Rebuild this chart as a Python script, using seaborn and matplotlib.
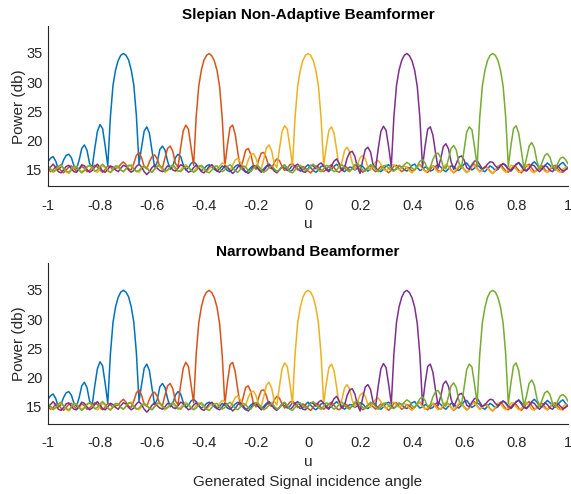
import numpy as np
import pandas as pd
import matplotlib
matplotlib.use("Agg")
import matplotlib.pyplot as plt
import seaborn as sns

# u grid (-1 .. 1, step 0.01) and beam power in dB
u = np.round(np.linspace(-1, 1, 201), 2)

blue = [
    16.3, 16.9, 17.2, 16.4, 15.0, 15.4, 16.6, 17.4, 17.6, 17.0,
    15.6, 15.1, 16.6, 18.6, 19.2, 18.3, 16.0, 15.3, 18.6, 21.5,
    22.7, 22.0, 19.0, 15.6, 24.0, 29.4, 32.1, 33.7, 34.6, 34.9,
    34.6, 33.8, 32.1, 29.5, 24.2, 16.0, 18.8, 21.6, 22.3, 21.2,
    18.2, 15.4, 16.2, 18.4, 19.0, 18.3, 16.4, 15.0, 15.6, 17.0,
    17.6, 17.2, 15.8, 14.9, 15.3, 16.0, 16.3, 15.9, 15.2, 14.8,
    15.1, 15.6, 15.8, 15.4, 15.0,
    14.7, 15.1, 15.6, 15.3, 14.8, 14.6, 15.0, 15.5, 15.8, 15.4,
    14.9, 14.5, 14.8, 15.3, 15.7, 15.5, 15.0, 14.7, 15.1, 15.6,
    15.9, 15.5, 15.0, 14.6, 14.9, 15.4, 15.2, 14.8, 15.1, 15.7,
    15.6, 15.1, 14.7, 14.9, 15.4, 15.8, 15.3, 14.8, 14.5, 14.9,
    15.5, 15.6, 15.2, 14.8, 15.0, 15.5, 15.9, 15.4, 14.9, 14.6,
    15.0, 15.4, 15.3, 14.9, 15.2, 15.7, 15.5, 15.0, 14.7, 15.1,
    15.5, 15.3, 14.8, 14.6, 15.0, 15.6, 15.8, 15.2, 14.8, 15.1,
    15.6, 15.4, 14.9, 14.7, 15.2, 15.7, 15.9, 15.3, 14.8, 15.0,
    15.4, 15.2, 14.7, 14.9, 15.5, 15.8, 15.4, 14.9, 14.6, 15.1,
    15.6, 15.5, 15.0, 14.8, 15.3, 15.9, 16.1, 15.5, 14.9, 15.2,
    15.7, 15.4, 14.8, 14.6, 15.1, 15.6, 15.3, 14.8, 15.0, 15.6,
    16.0, 15.6, 15.0, 14.7, 15.2, 15.8, 16.2, 15.7, 15.1, 14.8,
    15.3, 15.9, 16.3, 15.8, 15.2, 15.0, 15.6, 16.1, 15.7, 15.2,
    14.9, 15.4, 15.9, 16.2, 15.6, 15.1,
]

orange = [
    15.0, 14.6, 14.9, 15.5, 15.3, 14.8, 14.4, 14.9, 15.4, 15.6,
    15.1, 14.7, 15.0, 15.5, 15.2, 14.6, 14.8, 15.3, 15.7, 15.4,
    14.9, 14.5, 15.0, 15.6, 15.4, 14.9, 15.2,
    15.3, 15.9, 16.3, 15.8, 15.1, 14.9, 16.0, 17.4, 17.9, 17.0,
    15.4, 15.1, 16.3, 17.2, 17.5, 16.8, 15.5, 15.2, 17.0, 18.6,
    19.0, 18.1, 16.0, 15.4, 18.7, 21.6, 22.6, 21.9, 18.8, 15.7,
    24.1, 29.4, 32.1, 33.8, 34.6, 34.9, 34.5, 33.6, 32.0, 29.2,
    23.8, 15.5, 19.2, 22.2, 22.6, 21.0, 17.9, 15.1, 16.5, 18.3,
    18.6, 17.6, 15.6, 15.0, 16.6, 17.8, 17.9, 16.9, 15.3, 15.1,
    16.2, 16.8, 16.5, 15.5, 14.8, 15.2, 15.8, 16.0, 15.5, 14.9,
    15.1,
    15.5, 15.2, 14.7, 14.4, 14.9, 15.6, 15.4, 14.9, 14.6, 15.0,
    15.5, 15.8, 15.3, 14.7, 14.5, 15.0, 15.6, 15.3, 14.8, 15.1,
    15.7, 15.5, 14.9, 14.5, 14.8, 15.4, 15.6, 15.0, 14.6, 15.0,
    15.5, 15.3, 14.8, 14.4, 14.9, 15.6, 15.7, 15.1, 14.6, 14.9,
    15.4, 15.2, 14.7, 14.9, 15.5, 15.8, 15.3, 14.7, 14.5, 15.0,
    15.6, 15.4, 14.8, 14.6, 15.1, 15.7, 15.5, 14.9, 14.4, 14.8,
    15.4, 15.6, 15.0, 14.5, 14.8, 15.5, 15.9, 15.2, 14.6, 14.9,
    15.5, 15.3, 14.7, 14.3, 14.8, 15.4, 15.8, 15.3, 14.7, 14.5,
    15.0, 15.6, 15.4, 14.8, 14.4, 14.9, 15.6, 15.9, 15.2, 14.6,
    14.8, 15.4, 15.6, 15.0, 14.5, 14.9, 15.5, 15.7, 15.1, 14.6,
    14.5, 15.0, 15.4,
]

yellow = [
    15.3, 14.9, 14.5, 14.8, 15.4, 15.6, 15.1, 14.6, 14.3, 14.8,
    15.4, 15.5, 15.0, 14.6, 14.9, 15.5, 15.7, 15.2, 14.7, 14.5,
    15.0, 15.6, 15.3, 14.8, 14.4, 14.9, 15.5, 15.4, 14.9, 14.6,
    15.1, 15.6, 15.8, 15.2, 14.7, 14.5, 15.0, 15.5, 15.3, 14.8,
    14.6, 15.1, 15.7, 15.5, 14.9, 14.5, 14.8, 15.4, 15.6, 15.0,
    14.6, 14.9, 15.5, 15.8, 15.3, 14.8, 14.6, 15.2, 15.7, 15.4,
    14.9, 14.6, 15.1, 15.6, 15.4,
    15.0, 15.6, 16.1, 15.9, 15.2, 14.9, 15.7, 16.6, 16.9, 16.2,
    15.1, 15.3, 16.6, 17.5, 17.7, 16.9, 15.4, 15.1, 16.8, 18.7,
    19.2, 18.2, 16.0, 15.3, 18.5, 21.5, 22.5, 21.9, 19.0, 15.6,
    23.9, 29.3, 32.0, 33.7, 34.6, 34.9, 34.6, 33.7, 32.0, 29.3,
    23.9, 15.6, 18.9, 21.7, 22.3, 21.2, 18.3, 15.2, 16.2, 18.2,
    18.8, 18.0, 16.1, 15.0, 15.9, 17.0, 17.4, 16.8, 15.4, 14.9,
    15.6, 16.3, 16.5, 15.9, 15.1, 14.7, 15.2, 15.7, 15.8, 15.3,
    14.9,
    15.2, 15.6, 15.3, 14.7, 14.4, 14.9, 15.5, 15.7, 15.1, 14.6,
    14.8, 15.4, 15.6, 15.0, 14.5, 14.7, 15.3, 15.8, 15.4, 14.8,
    14.5, 15.0, 15.6, 15.5, 14.9, 14.4, 14.8, 15.5, 15.7, 15.1,
    14.6, 14.9, 15.4, 15.2, 14.6, 14.3, 14.9, 15.6, 15.5, 14.9,
    14.5, 15.0, 15.7, 15.6, 15.0, 14.5, 14.7, 15.3, 15.8, 15.2,
    14.6, 14.4, 15.0, 15.6, 15.3, 14.7, 14.5, 15.1, 15.6, 15.2,
    14.7, 14.5, 15.0, 15.4, 15.1,
]

purple = [
    14.8, 15.4, 15.9, 15.3, 14.6, 14.4, 14.9, 15.5, 15.7, 15.1,
    14.6, 14.5, 15.1, 15.8, 15.6, 15.0, 14.5, 14.8, 15.4, 15.9,
    15.3, 14.7, 14.5, 15.0, 15.6, 15.4, 14.9, 14.6, 15.2, 15.7,
    15.5, 14.9, 14.5, 14.8, 15.5, 15.9, 15.4, 14.6, 14.1, 14.6,
    15.3, 15.7, 15.2, 14.8, 14.6, 15.0, 15.6, 15.5, 14.9, 14.7,
    15.2, 15.8, 15.6, 15.0, 14.5, 14.7, 15.3, 15.7, 15.2, 14.6,
    14.4, 14.9, 15.5, 15.8, 15.3, 14.7, 14.5, 15.0, 15.6, 15.4,
    14.8, 14.3, 14.7, 15.4, 15.7, 15.2, 14.6, 14.3, 14.8, 15.5,
    15.6, 15.0, 14.5, 14.8, 15.4, 15.8, 15.3, 14.7, 14.4, 14.9,
    15.5, 15.7, 15.1, 14.6, 14.9, 15.6, 15.9, 15.3, 14.6, 14.5,
    15.1, 15.7, 15.6,
    15.1, 15.8, 16.1, 15.6, 14.9, 14.6, 15.6, 16.4, 16.8, 16.0,
    14.8, 15.2, 16.9, 17.9, 18.1, 17.2, 15.3, 14.3, 16.5, 18.4,
    18.8, 18.0, 15.8, 15.2, 18.6, 21.5, 22.4, 21.7, 18.8, 15.5,
    24.0, 29.4, 32.1, 33.7, 34.6, 34.9, 34.5, 33.6, 32.0, 29.2,
    23.8, 15.4, 19.0, 21.9, 22.3, 20.9, 17.9, 15.2, 16.8, 18.9,
    19.4, 18.5, 16.3, 15.0, 16.0, 17.1, 17.3, 16.6, 15.3, 15.0,
    15.8, 16.4, 16.5, 15.8, 15.1, 15.3, 15.9, 16.3, 16.2, 15.6,
    15.2,
    15.6, 16.0, 15.7, 15.1, 14.8, 15.3, 15.9, 16.1, 15.5, 14.9,
    14.7, 15.2, 15.8, 15.6, 15.0, 14.6, 15.1, 15.7, 15.4, 14.8,
    14.6, 15.2, 15.6, 15.1, 14.7, 14.9, 15.3,
]

green = [
    15.6, 15.1, 14.6, 14.9, 15.5, 15.8, 15.2, 14.7, 14.5, 15.0,
    15.6, 15.4, 14.8, 14.4, 14.8, 15.4, 15.7, 15.3, 14.7, 14.9,
    15.5, 15.9, 15.4, 14.8, 14.5, 15.0, 15.6, 15.5, 14.9, 14.6,
    15.1, 15.7, 15.6, 15.0, 14.6, 14.8, 15.3, 15.6, 15.2, 14.7,
    14.5, 15.0, 15.5, 15.7, 15.2, 14.7, 14.9, 15.4, 15.8, 15.3,
    14.8, 14.6, 15.1, 15.5, 15.4, 14.9, 14.5, 14.8, 15.4, 15.7,
    15.2, 14.6, 14.4, 14.9, 15.5, 15.6, 15.0, 14.6, 14.9, 15.5,
    15.8, 15.3, 14.7, 14.5, 15.0, 15.6, 15.4, 14.8, 14.6, 15.2,
    15.7, 15.5, 14.9, 14.5, 14.8, 15.3, 15.6, 15.1, 14.6, 14.9,
    15.5, 15.8, 15.2, 14.6, 14.4, 14.9, 15.5, 15.7, 15.2, 14.8,
    15.0, 15.6, 15.9, 15.4, 14.8, 14.6, 15.1, 15.7, 15.5, 15.0,
    14.6, 14.9, 15.5, 15.8, 15.3, 14.8, 14.6, 15.2, 15.8, 16.0,
    15.5, 14.9, 14.7, 15.2, 15.8, 15.6, 15.0, 14.6, 15.0, 15.6,
    15.7, 15.2, 14.8, 14.7, 15.2, 15.7,
    15.3, 15.8, 16.2, 15.9, 15.2, 14.9, 15.6, 16.4, 16.7, 16.1,
    15.0, 15.3, 16.7, 17.6, 17.8, 17.0, 15.4, 15.1, 16.8, 18.6,
    19.1, 18.3, 16.1, 15.3, 18.4, 21.4, 22.3, 21.8, 18.9, 15.6,
    23.9, 29.3, 32.0, 33.7, 34.6, 34.9, 34.6, 33.7, 32.0, 29.3,
    23.9, 15.5, 19.1, 22.0, 22.5, 21.2, 18.2, 15.2, 16.9, 19.0,
    19.6, 18.7, 16.4, 15.0, 16.2, 17.4, 17.7, 17.1, 15.6, 15.0,
    16.0, 16.9, 17.1, 16.7, 15.9,
]

series = ["s1", "s2", "s3", "s4", "s5"]
values = [blue, orange, yellow, purple, green]
colors = ["#0072BD", "#D95319", "#EDB120", "#7E2F8E", "#77AC30"]
titles = ["Slepian Non-Adaptive Beamformer", "Narrowband Beamformer"]
xticks = [-1, -0.8, -0.6, -0.4, -0.2, 0, 0.2, 0.4, 0.6, 0.8, 1]
xticklabels = ["-1", "-0.8", "-0.6", "-0.4", "-0.2", "0", "0.2", "0.4", "0.6", "0.8", "1"]
yticks = [15, 20, 25, 30, 35]

df = pd.concat(
    [pd.DataFrame({"u": u, "power": v, "beam": s}) for s, v in zip(series, values)],
    ignore_index=True,
)

sns.set_style("white")
plt.rcParams["font.family"] = ["Liberation Sans", "DejaVu Sans"]
plt.rcParams["axes.unicode_minus"] = False

fig = plt.figure(figsize=(5.71, 4.94), dpi=100)
axes = [fig.add_axes([0.084, 0.623, 0.911, 0.324]),
        fig.add_axes([0.084, 0.142, 0.911, 0.326])]
ink = "#262626"

for i, ax in enumerate(axes):
    sns.lineplot(data=df, x="u", y="power", hue="beam", palette=colors,
                 linewidth=1.1, legend=False, ax=ax, sort=False)
    ax.set_xlim(-1, 1)
    ax.set_ylim(12.1, 39.6)
    ax.set_xticks(xticks)
    ax.set_xticklabels(xticklabels)
    ax.set_yticks(yticks)
    ax.tick_params(direction="in", length=3, width=0.8, colors=ink,
                   labelsize=10.5)
    ax.tick_params(axis="x", pad=9)
    ax.tick_params(axis="y", pad=4)
    for side in ["top", "right"]:
        ax.spines[side].set_visible(False)
    for side in ["left", "bottom"]:
        ax.spines[side].set_color(ink)
        ax.spines[side].set_linewidth(0.8)
    ax.set_title(titles[i], fontsize=11, fontweight="bold", color="black", pad=5)
    ax.set_ylabel("Power (db)", fontsize=11, color=ink, labelpad=0)

axes[0].set_xlabel("u", fontsize=11, color=ink, labelpad=3)
axes[1].set_xlabel("u\nGenerated Signal incidence angle", fontsize=11,
                   color=ink, labelpad=3, linespacing=1.55)

fig.savefig("out.png", dpi=100)
